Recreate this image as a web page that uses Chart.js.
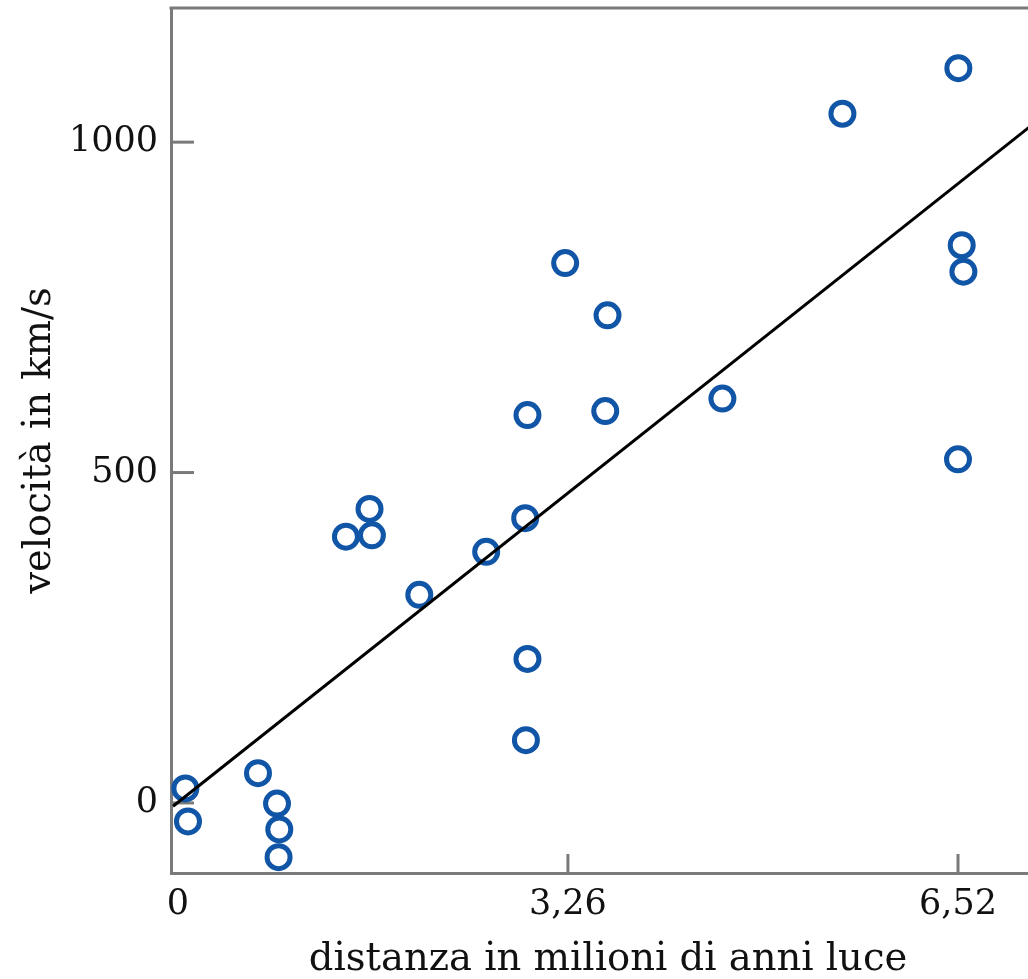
<!DOCTYPE html>
<html>
<head>
<meta charset="utf-8">
<script src="https://cdn.jsdelivr.net/npm/chart.js@4/dist/chart.umd.min.js"></script>
<style>
html,body{margin:0;padding:0;background:#fff;overflow:hidden;width:1028px;height:979px;}
#wrap{position:absolute;left:0;top:0;width:1045px;height:979px;}
canvas{display:block;}
</style>
</head>
<body>
<div id="wrap"><canvas id="c" width="1045" height="979" style="width:1045px;height:979px;max-width:none;"></canvas></div>
<script>
// distance in millions of light years
const distances = [0.063, 0.085, 0.670, 0.829, 0.848, 0.842, 1.405, 1.602, 1.622, 2.018, 2.577, 2.903,
  2.922, 2.922, 2.909, 3.237, 3.591, 3.572, 4.551, 5.554, 6.523, 6.551, 6.565, 6.520];
// velocity in km/s
const velocities = [22, -28, 45, -1, -40, -82, 403, 445, 405, 315, 380, 431,
  587, 218, 95, 817, 738, 593, 612, 1043, 1112, 844, 804, 520];
// fitted line end points
const fitX = [-0.04, 7.25];
const fitY = [-5, 1042];
// axis ticks
const xTickValues = [0, 3.26, 6.52];
const xTickLabels = ['0', '3,26', '6,52'];
const yTickValues = [0, 500, 1000];
const yTickLabels = ['0', '500', '1000'];
const xTitle = 'distanza in milioni di anni luce';
const yTitle = 'velocità in km/s';

const AXIS_COLOR = '#7a7a7a';
const POINT_COLOR = '#1155a6';
const FONT = "'DejaVu Serif', serif";

const framePlugin = {
  id: 'frame',
  beforeDatasetsDraw(chart) {
    const {ctx, chartArea: a, scales} = chart;
    ctx.save();
    ctx.strokeStyle = AXIS_COLOR;
    ctx.lineWidth = 3;
    ctx.lineCap = 'butt';
    ctx.beginPath();
    ctx.moveTo(a.left - 1.5, a.top);
    ctx.lineTo(a.right, a.top);
    ctx.stroke();
    yTickValues.forEach(v => {
      const y = scales.y.getPixelForValue(v);
      ctx.beginPath();
      ctx.moveTo(a.left, y);
      ctx.lineTo(a.left + 23, y);
      ctx.stroke();
    });
    xTickValues.forEach(v => {
      if (v === 0) return;
      const x = scales.x.getPixelForValue(v);
      ctx.beginPath();
      ctx.moveTo(x, a.bottom);
      ctx.lineTo(x, a.bottom - 19);
      ctx.stroke();
    });
    ctx.restore();
  }
};

new Chart(document.getElementById('c'), {
  type: 'scatter',
  data: {
    datasets: [
      {
        label: 'fit',
        data: fitX.map((x, i) => ({x, y: fitY[i]})),
        showLine: true,
        borderColor: '#000',
        borderWidth: 3,
        pointRadius: 0,
        pointHoverRadius: 0,
        order: 0
      },
      {
        label: 'galassie',
        data: distances.map((x, i) => ({x, y: velocities[i]})),
        pointStyle: 'circle',
        pointRadius: 11.5,
        pointHoverRadius: 11.5,
        borderWidth: 5,
        pointBorderWidth: 5,
        borderColor: POINT_COLOR,
        backgroundColor: 'rgba(255,255,255,0)',
        order: 1
      }
    ]
  },
  options: {
    responsive: false,
    maintainAspectRatio: false,
    animation: false,
    layout: {autoPadding: false, padding: {left: 0, right: 0, top: 8, bottom: 0}},
    plugins: {legend: {display: false}, tooltip: {enabled: false}},
    scales: {
      x: {
        type: 'linear',
        min: -0.057,
        max: 7.247,
        afterBuildTicks: s => { s.ticks = xTickValues.map(v => ({value: v})); },
        afterFit: s => { s.height = 106; s.paddingLeft = 0; s.paddingRight = 0; s.paddingTop = 0; s.paddingBottom = 0; },
        grid: {display: false, drawTicks: false},
        border: {display: true, color: AXIS_COLOR, width: 3},
        ticks: {
          color: '#111',
          font: {family: FONT, size: 35},
          padding: 11,
          maxRotation: 0,
          autoSkip: false,
          callback: (v) => { const i = xTickValues.indexOf(v); return i >= 0 ? xTickLabels[i] : ''; }
        },
        title: {
          display: true,
          text: xTitle,
          color: '#111',
          font: {family: FONT, size: 38.5, lineHeight: 1},
          padding: {top: 0, bottom: 0}
        }
      },
      y: {
        type: 'linear',
        min: -106,
        max: 1203,
        afterBuildTicks: s => { s.ticks = yTickValues.map(v => ({value: v})); },
        afterFit: s => { s.width = 171; s.paddingLeft = 0; s.paddingRight = 0; s.paddingTop = 0; s.paddingBottom = 0; },
        grid: {display: false, drawTicks: false},
        border: {display: true, color: AXIS_COLOR, width: 3},
        ticks: {
          color: '#111',
          font: {family: FONT, size: 35},
          padding: 13,
          autoSkip: false,
          callback: (v) => { const i = yTickValues.indexOf(v); return i >= 0 ? yTickLabels[i] : ''; }
        },
        title: {
          display: true,
          text: yTitle,
          color: '#111',
          font: {family: FONT, size: 38.5, lineHeight: 1.2},
          padding: {top: 17, bottom: 0}
        }
      }
    }
  },
  plugins: [framePlugin]
});
</script>
</body>
</html>
